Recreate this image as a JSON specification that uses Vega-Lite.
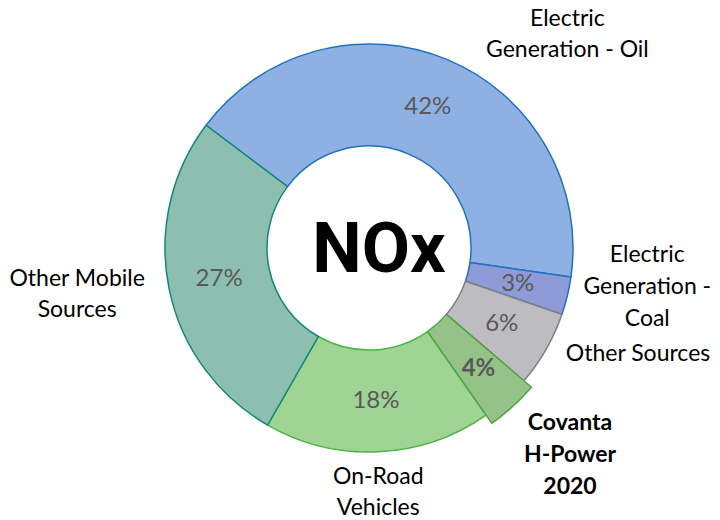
{
  "$schema": "https://vega.github.io/schema/vega-lite/v6.json",
  "autosize": {"type": "none"},
  "width": 702,
  "height": 496,
  "padding": {"left": 18, "top": 0, "right": 0, "bottom": 24},
  "background": "white",
  "config": {"view": {"stroke": null}},
  "data": {
    "values": [
      {"key": "oil", "source": "Electric Generation - Oil", "pct": 42, "order": 1, "pctText": "42%", "label": "Electric\nGeneration - Oil"},
      {"key": "coal", "source": "Electric Generation - Coal", "pct": 3, "order": 2, "pctText": "3%", "label": "Electric\nGeneration -\nCoal"},
      {"key": "other", "source": "Other Sources", "pct": 6, "order": 3, "pctText": "6%", "label": "Other Sources"},
      {"key": "covanta", "source": "Covanta H-Power 2020", "pct": 4, "order": 4, "pctText": "4%", "label": "Covanta\nH-Power\n2020"},
      {"key": "onroad", "source": "On-Road Vehicles", "pct": 18, "order": 5, "pctText": "18%", "label": "On-Road\nVehicles"},
      {"key": "mobile", "source": "Other Mobile Sources", "pct": 27, "order": 6, "pctText": "27%", "label": "Other Mobile\nSources"}
    ]
  },
  "encoding": {
    "theta": {"field": "pct", "type": "quantitative", "stack": true, "scale": {"domain": [0, 100], "range": [-0.925, 5.358]}},
    "order": {"field": "order", "type": "quantitative"}
  },
  "layer": [
    {
      "mark": {"type": "arc", "radius": 204, "innerRadius": 102, "strokeWidth": 1.5},
      "encoding": {
        "fill": {"field": "key", "type": "nominal", "legend": null, "scale": {"domain": ["oil", "coal", "other", "covanta", "onroad", "mobile"], "range": ["#8fb0e2", "#8e9bd6", "#bdbdc1", "#95c288", "#9fd494", "#8dbfb0"]}},
        "stroke": {"field": "key", "type": "nominal", "legend": null, "scale": {"domain": ["oil", "coal", "other", "covanta", "onroad", "mobile"], "range": ["#1f72c0", "#1f72c0", "#7f7f7f", "#4ea640", "#4cb447", "#0f8a78"]}},
        "opacity": {"condition": {"test": "datum.key === 'covanta'", "value": 0}, "value": 1}
      }
    },
    {
      "mark": {"type": "arc", "radius": 204, "innerRadius": 102, "radiusOffset": 10, "radius2Offset": 10, "strokeWidth": 1.5},
      "encoding": {
        "fill": {"field": "key", "type": "nominal", "legend": null},
        "stroke": {"field": "key", "type": "nominal", "legend": null},
        "opacity": {"condition": {"test": "datum.key === 'covanta'", "value": 1}, "value": 0}
      }
    },
    {
      "mark": {"type": "text", "radius": 153, "font": "Lato", "fontSize": 24, "fill": "#595959", "align": "center", "baseline": "middle"},
      "encoding": {
        "text": {"condition": {"test": "datum.key !== 'covanta'", "field": "pctText", "type": "nominal"}, "value": ""}
      }
    },
    {
      "mark": {"type": "text", "radius": 163, "font": "Lato", "fontSize": 24, "fontWeight": "bold", "fill": "#595959", "align": "center", "baseline": "middle"},
      "encoding": {
        "text": {"condition": {"test": "datum.key === 'covanta'", "field": "pctText", "type": "nominal"}, "value": ""}
      }
    },
    {
      "mark": {"type": "text", "radius": 204, "dx": 120, "dy": -41, "font": "Lato", "fontSize": 23, "lineHeight": 31, "lineBreak": "\n", "fill": "black", "align": "center", "baseline": "middle"},
      "encoding": {"text": {"condition": {"test": "datum.key === 'oil'", "field": "label", "type": "nominal"}, "value": ""}}
    },
    {
      "mark": {"type": "text", "radius": 204, "dx": 80, "dy": -41, "font": "Lato", "fontSize": 23, "lineHeight": 32, "lineBreak": "\n", "fill": "black", "align": "center", "baseline": "middle"},
      "encoding": {"text": {"condition": {"test": "datum.key === 'coal'", "field": "label", "type": "nominal"}, "value": ""}}
    },
    {
      "mark": {"type": "text", "radius": 204, "dx": 92, "dy": 5, "font": "Lato", "fontSize": 23, "lineHeight": 31, "lineBreak": "\n", "fill": "black", "align": "center", "baseline": "middle"},
      "encoding": {"text": {"condition": {"test": "datum.key === 'other'", "field": "label", "type": "nominal"}, "value": ""}}
    },
    {
      "mark": {"type": "text", "radius": 204, "dx": 64, "dy": 24, "font": "Lato", "fontSize": 23, "fontWeight": "bold", "lineHeight": 32, "lineBreak": "\n", "fill": "black", "align": "center", "baseline": "middle"},
      "encoding": {"text": {"condition": {"test": "datum.key === 'covanta'", "field": "label", "type": "nominal"}, "value": ""}}
    },
    {
      "mark": {"type": "text", "radius": 204, "dx": 0, "dy": 25, "font": "Lato", "fontSize": 23, "lineHeight": 31, "lineBreak": "\n", "fill": "black", "align": "center", "baseline": "middle"},
      "encoding": {"text": {"condition": {"test": "datum.key === 'onroad'", "field": "label", "type": "nominal"}, "value": ""}}
    },
    {
      "mark": {"type": "text", "radius": 204, "dx": -92, "dy": -10, "font": "Lato", "fontSize": 23, "lineHeight": 31, "lineBreak": "\n", "fill": "black", "align": "center", "baseline": "middle"},
      "encoding": {"text": {"condition": {"test": "datum.key === 'mobile'", "field": "label", "type": "nominal"}, "value": ""}}
    },
    {
      "data": {"values": [{"t": "NOx"}]},
      "mark": {"type": "text", "font": "Roboto", "fontWeight": "bold", "fontSize": 70, "fill": "black", "align": "center", "baseline": "middle", "dx": 10, "dy": 3},
      "encoding": {"text": {"field": "t", "type": "nominal"}, "theta": null, "order": null}
    }
  ]
}
